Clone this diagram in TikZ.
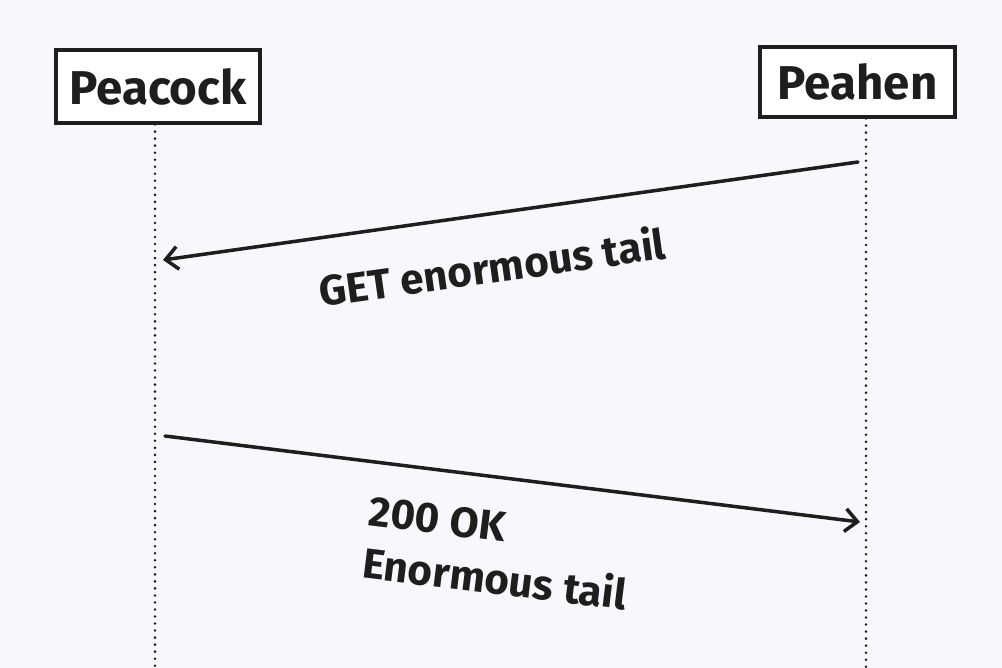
\documentclass[tikz,border=0pt]{standalone}
\usepackage{fontspec}
\setmainfont{Fira Sans}
\usetikzlibrary{arrows.meta}
\definecolor{paper}{HTML}{F8F8FC}
\definecolor{ink}{HTML}{1E1E1E}

\begin{document}
\begin{tikzpicture}[x=0.02cm,y=-0.02cm,>={Straight Barb[length=7pt,width=13pt]},
  actor/.style={draw=ink,line width=1.8pt,fill=white,inner sep=0pt,
    font=\fontsize{27}{32}\selectfont\bfseries,text=ink},
  lifeline/.style={ink,line width=1.6pt,dash pattern=on 0pt off 4pt,line cap=round},
  msg/.style={->,ink,line width=2pt,line cap=round},
  note/.style={font=\fontsize{24}{30}\selectfont\bfseries,text=ink,align=left,inner sep=0pt}]
% background
\fill[paper] (0,0) rectangle (1002,668);
\useasboundingbox (0,0) rectangle (1002,668);

% 1. actors
\node[actor,minimum width=4.08cm,minimum height=1.46cm] (peacock) at (158,86.5) {Peacock};
\node[actor,minimum width=3.9cm,minimum height=1.4cm] (peahen) at (857.5,82) {Peahen};

% 2. lifelines
\coordinate (peacockEnd) at (155,668);
\coordinate (peahenEnd) at (866,668);
\draw[lifeline] (peacock.south -| peacockEnd) -- (peacockEnd);
\draw[lifeline] (peahen.south -| peahenEnd) -- (peahenEnd);

% 3. request
\coordinate (getFrom) at (858,162);
\coordinate (getTo) at (163,260);
\draw[msg] (getFrom) -- (getTo);
\node[note,rotate=8] (getLabel) at (492,266) {GET enormous tail};

% 4. response
\coordinate (okFrom) at (165,436);
\coordinate (okTo) at (860,522);
\draw[msg] (okFrom) -- (okTo);
\node[note,rotate=-7] (okLabel) at (498,553) {200 OK\\Enormous tail};
\end{tikzpicture}
\end{document}
